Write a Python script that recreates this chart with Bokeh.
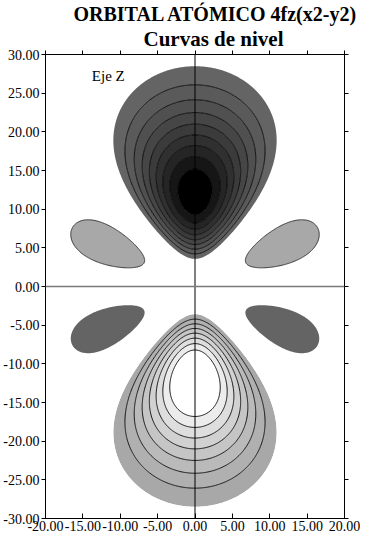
import numpy as np
from bokeh.plotting import figure
from bokeh.models import (LinearAxis, FixedTicker, NumeralTickFormatter, Span,
                          Title, Range1d, Label, CustomJSTickFormatter)
from bokeh.embed import file_html
from bokeh.resources import INLINE

# ---- chart values -------------------------------------------------------
title_main = "ORBITAL ATÓMICO 4fz(x2-y2)"
title_sub = "Curvas de nivel"
axis_label_text = "Eje Z"
x_ticks = [-20, -15, -10, -5, 0, 5, 10, 15, 20]
y_ticks = [-30, -25, -20, -15, -10, -5, 0, 5, 10, 15, 20, 25, 30]

# contour levels (fraction of the maximum amplitude)
levels = [-1.05, -0.913, -0.826, -0.739, -0.652, -0.565, -0.478, -0.391, -0.304,
          -0.217, 0.217, 0.304, 0.391, 0.478, 0.565, 0.652, 0.739, 0.826, 0.913, 1.05]
# grey value of each band between consecutive levels
band_grays = [255, 255, 236, 222, 209, 197, 186, 176, 168,
              255, 100, 90, 80, 70, 59, 48, 37, 22, 0]
# which level lines are drawn (1) or hidden (0)
line_shown = [0, 0, 1, 1, 1, 1, 1, 1, 1, 0, 0, 1, 1, 1, 1, 1, 1, 1, 1, 0]

# orbital parameters: radial peak, radial decay, angular shape
r_peak = 12.0
r_decay = 4.0
k_ang = 5.85

# ---- field ----------------------------------------------------------------
xs = np.linspace(-20, 20, 321)
zs = np.linspace(-30, 30, 481)
X, Z = np.meshgrid(xs, zs)
R = np.hypot(X, Z)
R[R == 0] = 1e-9
C = Z / R
psi = (R / r_peak) ** 3 * np.exp((r_peak - R) / r_decay) * C * (k_ang * C ** 2 - 3) / (k_ang - 3)

fills = ["#%02x%02x%02x" % (g, g, g) for g in band_grays]
alphas = [float(a) for a in line_shown]

SERIF = "Liberation Serif"

p = figure(width=360, height=533, x_range=Range1d(-20, 20), y_range=Range1d(-30, 30),
           output_backend="svg", toolbar_location=None,
           min_border_left=0, min_border_right=16, min_border_top=0, min_border_bottom=0,
           outline_line_color="black", outline_line_width=1)
p.xgrid.visible = False
p.ygrid.visible = False

p.contour(xs, zs, psi, levels, fill_color=fills, line_color="black",
          line_alpha=alphas, line_width=0.9)

# outline of upper side lobes
psi_top = np.where(Z > 0, psi, 0.0)
p.contour(xs, zs, psi_top, [-0.217, 0.5], fill_color=None, line_color="#222222",
          line_alpha=[1.0, 0.0], line_width=0.9)

p.add_layout(Span(location=0, dimension="height", line_color="black", line_width=1))
p.add_layout(Span(location=0, dimension="width", line_color="#7a7a7a", line_width=1.5))

p.add_layout(Label(x=-13.8, y=27.2, text=axis_label_text, text_font=SERIF,
                   text_font_size="15px", text_baseline="middle", text_color="black"))

# axes
xa = p.xaxis[0]
xa.ticker = FixedTicker(ticks=x_ticks)
xa.formatter = NumeralTickFormatter(format="0.00")
xa.major_tick_in = 5
xa.major_tick_out = 0
ya = p.yaxis[0]
ya.ticker = FixedTicker(ticks=y_ticks)
ya.formatter = NumeralTickFormatter(format="0.00")
ya.major_tick_in = 0
ya.major_tick_out = 4
for ax in (xa, ya):
    ax.minor_tick_line_color = None
    ax.major_label_text_font = SERIF
    ax.major_label_text_font_size = "14px"
    ax.major_label_text_color = "black"
    ax.major_label_standoff = 2
    ax.axis_line_color = "black"
    ax.major_tick_line_color = "black"

blank = CustomJSTickFormatter(code="return '';")
top_ax = LinearAxis(ticker=FixedTicker(ticks=x_ticks), major_tick_out=4, major_tick_in=0,
                    minor_tick_line_color=None, formatter=blank, major_label_standoff=0)
right_ax = LinearAxis(ticker=FixedTicker(ticks=y_ticks), major_tick_out=4, major_tick_in=0,
                      minor_tick_line_color=None, formatter=blank, major_label_standoff=0)
p.add_layout(top_ax, "above")
p.add_layout(right_ax, "right")

p.add_layout(Title(text=title_sub, align="left", text_font=SERIF, text_font_size="21px",
                   text_font_style="bold", standoff=0, offset=98, text_color="black"), "above")
p.add_layout(Title(text=title_main, align="left", text_font=SERIF, text_font_size="20px",
                   text_font_style="bold", standoff=0, offset=28, text_color="black"), "above")

open("out.html", "w").write(file_html(p, INLINE))
